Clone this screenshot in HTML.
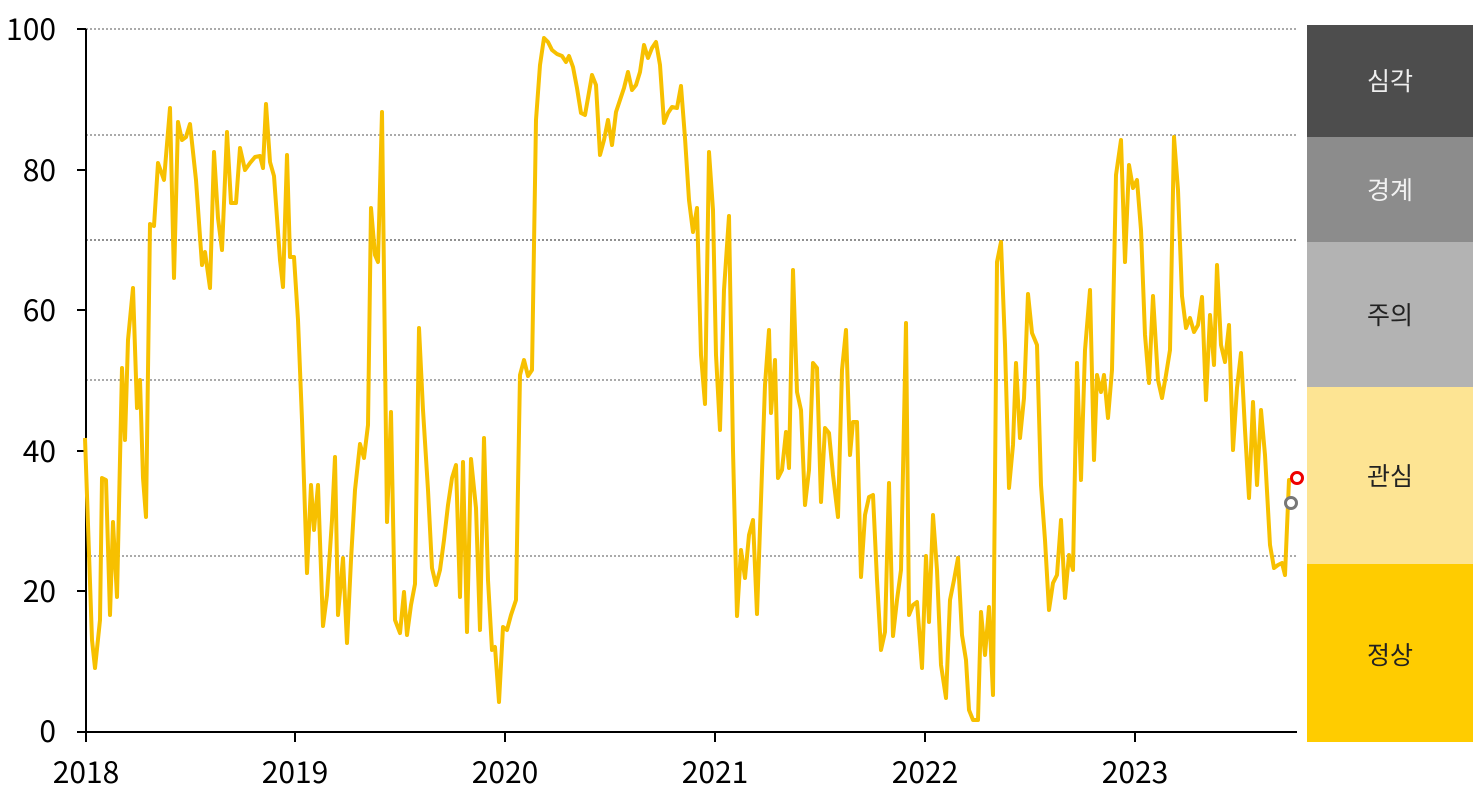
<!DOCTYPE html>
<html><head><meta charset="utf-8"><style>
html,body{margin:0;padding:0;background:#fff;}
svg text{font-family:"Noto Sans CJK KR","Liberation Sans",sans-serif;}
</style></head><body>
<svg width="1483" height="796" xmlns="http://www.w3.org/2000/svg">
<rect x="1307" y="25" width="166" height="112" fill="#4d4d4d"/>
<rect x="1307" y="137" width="166" height="105" fill="#8c8c8c"/>
<rect x="1307" y="242" width="166" height="145" fill="#b3b3b3"/>
<rect x="1307" y="387" width="166" height="177" fill="#fde493"/>
<rect x="1307" y="564" width="166" height="178" fill="#ffcc00"/>
<g font-size="25" text-anchor="middle">
<text x="1390" y="90" fill="#eee">심각</text>
<text x="1390" y="199" fill="#f2f2f2">경계</text>
<text x="1390" y="324" fill="#222">주의</text>
<text x="1390" y="485" fill="#222">관심</text>
<text x="1390" y="664" fill="#222">정상</text>
</g>
<g stroke="#555" stroke-width="1" stroke-dasharray="2,2">
<line x1="86" y1="29" x2="1297" y2="29"/>
<line x1="86" y1="135" x2="1297" y2="135"/>
<line x1="86" y1="240" x2="1297" y2="240" stroke="#222"/>
<line x1="86" y1="380" x2="1297" y2="380"/>
<line x1="86" y1="556" x2="1297" y2="556"/>
</g>
<g stroke="#000" stroke-width="2">
<line x1="86" y1="29" x2="86" y2="742"/>
<line x1="77" y1="732" x2="1297" y2="732"/>
<line x1="77" y1="29" x2="86" y2="29"/>
<line x1="77" y1="170" x2="86" y2="170"/>
<line x1="77" y1="310" x2="86" y2="310"/>
<line x1="77" y1="451" x2="86" y2="451"/>
<line x1="77" y1="591" x2="86" y2="591"/>
<line x1="295" y1="732" x2="295" y2="742"/>
<line x1="505" y1="732" x2="505" y2="742"/>
<line x1="715" y1="732" x2="715" y2="742"/>
<line x1="925" y1="732" x2="925" y2="742"/>
<line x1="1135" y1="732" x2="1135" y2="742"/>
</g>
<g font-size="30" text-anchor="end" fill="#000">
<text x="56" y="40">100</text><text x="56" y="181">80</text><text x="56" y="321">60</text>
<text x="56" y="462">40</text><text x="56" y="602">20</text><text x="56" y="742">0</text>
</g>
<g font-size="30" text-anchor="middle" fill="#000">
<text x="86" y="783">2018</text><text x="295" y="783">2019</text><text x="505" y="783">2020</text>
<text x="715" y="783">2021</text><text x="925" y="783">2022</text><text x="1135" y="783">2023</text>
</g>
<polyline fill="none" stroke="#f7c000" stroke-width="4" stroke-linejoin="round" points="85,438 92,640 95,668 100,620 102,478 106,480 110,615 113,522 117,597 122,368 125,440 128,340 133,288 137,408 140,380 143,478 146,517 150,224 154,226 158,163 164,180 170,108 174,278 178,122 182,140 186,137 190,124 196,180 202,265 205,252 210,288 214,152 218,218 222,250 227,132 231,203 236,203 240,148 245,170 250,163 255,157 260,156 263,168 266,104 270,162 274,176 280,260 283,287 287,155 290,257 294,257 298,320 302,420 307,573 311,485 314,530 318,485 323,626 327,595 332,520 335,457 338,615 343,558 347,643 351,560 355,490 360,444 364,458 368,425 371,208 375,255 378,262 382,112 387,522 391,412 395,620 400,633 404,592 407,635 411,605 415,584 419,328 423,410 428,490 432,568 436,585 440,570 444,540 448,505 452,478 456,465 460,597 463,462 467,632 471,459 476,508 480,630 484,438 488,580 492,650 495,647 499,702 503,627 507,630 511,615 516,600 520,375 524,360 528,376 532,370 536,120 540,65 544,38 548,42 552,50 557,54 562,56 566,62 569,56 573,67 577,88 581,113 585,115 588,98 592,75 596,85 600,155 604,140 608,120 612,145 616,112 620,100 624,88 628,72 632,90 636,85 640,72 644,45 648,58 652,48 656,42 660,65 664,123 668,113 672,107 677,108 681,86 685,138 689,200 693,232 697,208 701,355 705,404 709,152 713,210 716,355 720,430 724,290 729,216 733,450 737,616 741,550 745,578 749,535 753,520 757,614 761,500 765,385 769,330 771,413 775,360 778,478 782,470 786,432 789,468 793,270 797,392 801,410 805,505 809,470 813,363 817,368 821,502 825,428 829,433 833,475 838,517 842,370 846,330 850,455 853,422 857,422 861,577 865,515 869,497 873,495 877,580 881,650 885,632 889,483 893,636 897,600 901,570 906,323 909,615 913,605 917,602 922,668 926,556 929,622 933,515 937,570 941,665 946,698 950,600 954,580 958,558 962,635 966,660 969,710 973,720 978,720 981,612 985,655 989,607 993,695 997,262 1001,242 1005,345 1009,488 1013,445 1016,363 1020,438 1024,398 1028,294 1032,333 1037,345 1041,485 1045,540 1049,610 1053,583 1057,575 1061,520 1065,598 1069,555 1073,570 1077,363 1081,480 1085,350 1090,290 1094,460 1097,375 1101,392 1104,375 1108,418 1112,370 1116,175 1121,140 1125,262 1129,165 1133,188 1137,180 1141,230 1145,335 1149,383 1153,296 1158,380 1162,398 1166,375 1170,350 1174,137 1178,190 1182,296 1186,328 1190,318 1194,332 1198,325 1202,297 1206,400 1210,315 1214,365 1217,265 1221,345 1225,362 1229,325 1233,450 1237,388 1241,353 1245,430 1249,498 1253,402 1257,485 1261,410 1265,455 1270,545 1274,568 1278,565 1282,563 1285,575 1289,480 1292,480 1296,478"/>
<circle cx="1291" cy="503" r="5.5" fill="#fff" stroke="#777" stroke-width="3"/>
<circle cx="1297" cy="478" r="5.5" fill="#fff" stroke="#e00" stroke-width="3"/>
</svg>
</body></html>
